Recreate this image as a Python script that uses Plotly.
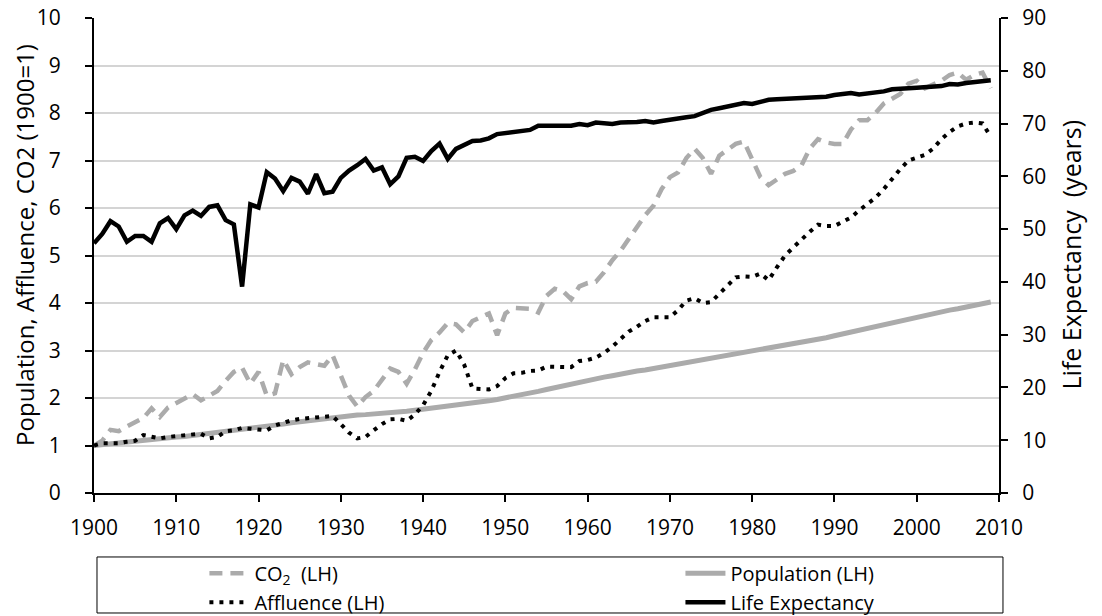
import plotly.graph_objects as go

years = list(range(1900, 2010))

co2 = [1.00, 1.10, 1.33, 1.30, 1.40, 1.48, 1.58, 1.78, 1.60, 1.80,
       1.90, 1.98, 2.08, 1.95, 2.05, 2.15, 2.36, 2.55, 2.64, 2.30,
       2.55, 2.05, 2.10, 2.80, 2.50, 2.65, 2.75, 2.72, 2.68, 2.90,
       2.45, 2.05, 1.82, 2.02, 2.15, 2.40, 2.62, 2.55, 2.30, 2.60,
       2.95, 3.22, 3.38, 3.58, 3.55, 3.38, 3.62, 3.70, 3.78, 3.32,
       3.78, 3.90, 3.90, 3.88, 3.80, 4.15, 4.30, 4.25, 4.08, 4.35,
       4.42, 4.45, 4.65, 4.90, 5.10, 5.35, 5.60, 5.85, 6.05, 6.40,
       6.65, 6.75, 7.05, 7.25, 7.05, 6.72, 7.10, 7.22, 7.35, 7.40,
       7.05, 6.65, 6.48, 6.60, 6.72, 6.78, 6.90, 7.25, 7.45, 7.38,
       7.35, 7.35, 7.65, 7.85, 7.85, 8.00, 8.20, 8.30, 8.40, 8.62,
       8.68, 8.52, 8.60, 8.68, 8.80, 8.85, 8.70, 8.80, 8.85, 8.52]

population = [1.00, 1.02, 1.04, 1.05, 1.07, 1.09, 1.10, 1.12, 1.14, 1.16,
              1.18, 1.19, 1.21, 1.23, 1.25, 1.27, 1.29, 1.31, 1.33, 1.35,
              1.38, 1.40, 1.43, 1.45, 1.48, 1.50, 1.53, 1.55, 1.58, 1.60,
              1.62, 1.63, 1.64, 1.65, 1.66, 1.67, 1.69, 1.70, 1.72, 1.74,
              1.76, 1.78, 1.80, 1.82, 1.84, 1.86, 1.88, 1.91, 1.94, 1.97,
              2.00, 2.03, 2.07, 2.10, 2.14, 2.18, 2.22, 2.26, 2.30, 2.33,
              2.36, 2.40, 2.44, 2.47, 2.51, 2.54, 2.57, 2.59, 2.62, 2.65,
              2.68, 2.72, 2.75, 2.78, 2.82, 2.85, 2.88, 2.91, 2.94, 2.97,
              3.00, 3.03, 3.06, 3.09, 3.12, 3.15, 3.18, 3.21, 3.24, 3.27,
              3.31, 3.35, 3.39, 3.43, 3.47, 3.51, 3.55, 3.59, 3.63, 3.67,
              3.71, 3.74, 3.78, 3.81, 3.85, 3.88, 3.92, 3.95, 3.99, 4.02]

affluence = [1.00, 1.05, 1.05, 1.05, 1.08, 1.10, 1.22, 1.18, 1.15, 1.18,
             1.20, 1.22, 1.25, 1.25, 1.15, 1.18, 1.30, 1.32, 1.37, 1.35,
             1.33, 1.32, 1.42, 1.48, 1.53, 1.56, 1.58, 1.60, 1.62, 1.62,
             1.45, 1.27, 1.15, 1.18, 1.32, 1.45, 1.55, 1.56, 1.52, 1.65,
             1.85, 2.15, 2.55, 2.90, 3.00, 2.70, 2.20, 2.18, 2.18, 2.25,
             2.42, 2.52, 2.53, 2.57, 2.58, 2.66, 2.65, 2.64, 2.65, 2.78,
             2.80, 2.85, 2.95, 3.08, 3.25, 3.40, 3.50, 3.62, 3.70, 3.70,
             3.70, 3.85, 4.05, 4.10, 4.00, 4.02, 4.20, 4.37, 4.54, 4.56,
             4.55, 4.62, 4.48, 4.75, 5.00, 5.17, 5.34, 5.50, 5.65, 5.62,
             5.62, 5.70, 5.80, 5.95, 6.08, 6.22, 6.40, 6.62, 6.82, 7.00,
             7.05, 7.12, 7.25, 7.45, 7.60, 7.72, 7.78, 7.80, 7.78, 7.50]

life_expectancy = [47.3, 49.1, 51.5, 50.5, 47.6, 48.7, 48.7, 47.6, 51.1, 52.1,
                   50.0, 52.6, 53.5, 52.5, 54.2, 54.5, 51.7, 50.9, 39.1, 54.7,
                   54.1, 60.8, 59.6, 57.2, 59.7, 59.0, 56.7, 60.4, 56.8, 57.1,
                   59.7, 61.1, 62.1, 63.3, 61.1, 61.7, 58.5, 60.0, 63.5, 63.7,
                   62.9, 64.8, 66.2, 63.3, 65.2, 65.9, 66.7, 66.8, 67.2, 68.0,
                   68.2, 68.4, 68.6, 68.8, 69.6, 69.6, 69.7, 69.5, 69.6, 69.9,
                   69.7, 70.2, 70.1, 69.9, 70.2, 70.2, 70.3, 70.5, 70.2, 70.5,
                   70.8, 71.1, 71.2, 71.4, 72.0, 72.6, 72.9, 73.3, 73.5, 73.9,
                   73.7, 74.1, 74.5, 74.6, 74.7, 74.7, 74.7, 74.9, 74.9, 75.1,
                   75.4, 75.5, 75.8, 75.5, 75.7, 75.8, 76.1, 76.5, 76.7, 76.7,
                   76.8, 76.9, 76.9, 77.1, 77.5, 77.4, 77.7, 77.9, 78.0, 78.2]

x_ticks = list(range(1900, 2011, 10))
left_ticks = list(range(0, 11))
right_ticks = list(range(0, 91, 10))

left_title = "Population, Affluence, CO2 (1900=1)"
right_title = "Life Expectancy\u00a0 (years)"

GRAY = "#ababab"
TICK_FONT = dict(family="Open Sans", size=21, color="#000000")
LEG_FONT = dict(family="Open Sans", size=20, color="#000000")

fig = go.Figure()
fig.add_trace(go.Scatter(x=years, y=co2, name="CO<sub>2</sub>\u00a0 (LH)", mode="lines",
                         line=dict(color=GRAY, width=4.5, dash="13px,8px"), legend="legend"))
fig.add_trace(go.Scatter(x=years, y=population, name="Population (LH)", mode="lines",
                         line=dict(color=GRAY, width=5), legend="legend2"))
fig.add_trace(go.Scatter(x=years, y=affluence, name="Affluence (LH)", mode="lines",
                         line=dict(color="#000000", width=4, dash="4px,6px"), legend="legend"))
fig.add_trace(go.Scatter(x=years, y=life_expectancy, name="Life Expectancy", mode="lines",
                         line=dict(color="#000000", width=4.5), yaxis="y2", legend="legend2"))

fig.update_layout(
    width=1102, height=616,
    margin=dict(l=94, r=103, t=18, b=123, autoexpand=False),
    paper_bgcolor="white", plot_bgcolor="white",
    showlegend=True,
    xaxis=dict(range=[1900, 2010], tickvals=x_ticks, ticks="outside", ticklen=7,
               tickcolor="black", tickwidth=2, showline=True, linecolor="black", linewidth=2,
               showgrid=False, zeroline=False, tickfont=TICK_FONT, automargin=False,
               ticklabelstandoff=8),
    yaxis=dict(range=[0, 10], tickvals=left_ticks, ticks="outside", ticklen=7,
               tickcolor="black", tickwidth=2, showline=True, linecolor="black", linewidth=2,
               showgrid=True, gridcolor="#d4d4d4", gridwidth=1.5, zeroline=False,
               tickfont=TICK_FONT, automargin=False, ticklabelstandoff=20),
    yaxis2=dict(range=[0, 90], tickvals=right_ticks, overlaying="y", side="right",
                ticks="outside", ticklen=7, tickcolor="black", tickwidth=2,
                showline=True, linecolor="black", linewidth=2, showgrid=False, zeroline=False,
                tickfont=TICK_FONT, automargin=False, ticklabelstandoff=10),
    legend=dict(orientation="v", x=0.122, y=-0.128, xanchor="left", yanchor="top",
                font=LEG_FONT, bgcolor="rgba(0,0,0,0)", tracegroupgap=0, itemwidth=40),
    legend2=dict(orientation="v", x=0.648, y=-0.128, xanchor="left", yanchor="top",
                 font=LEG_FONT, bgcolor="rgba(0,0,0,0)", tracegroupgap=0, itemwidth=40),
    annotations=[
        dict(text=left_title, xref="paper", yref="paper", x=-0.0775, y=0.522,
             xanchor="center", yanchor="middle", textangle=-90, showarrow=False,
             font=dict(family="Open Sans", size=24, color="black")),
        dict(text=right_title, xref="paper", yref="paper", x=1.080, y=0.503,
             xanchor="center", yanchor="middle", textangle=-90, showarrow=False,
             font=dict(family="Open Sans", size=25, color="black")),
    ],
    shapes=[dict(type="rect", xref="paper", yref="paper", x0=0.0033, x1=1.0044,
                 y0=-0.2526, y1=-0.1347, line=dict(color="black", width=1), layer="above")],
)

fig.write_html("out.html", config={"displayModeBar": False},
               post_script="document.body.style.margin='0';document.body.style.overflow='hidden';")
